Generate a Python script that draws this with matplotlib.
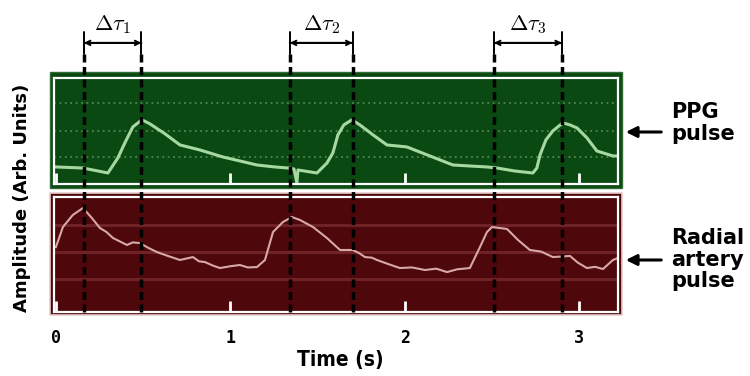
import matplotlib.pyplot as plt
from matplotlib.patches import Rectangle, FancyArrowPatch

# PPG pulse trace (time in s, amplitude in arb. units)
ppgTime = [0.0, 0.155, 0.298, 0.355, 0.395, 0.441, 0.493, 0.539, 0.625, 0.711,
           0.825, 0.957, 1.054, 1.152, 1.255, 1.330, 1.364, 1.381, 1.387, 1.496,
           1.513, 1.553, 1.587, 1.616, 1.650, 1.696, 1.742, 1.817, 1.897, 2.011,
           2.143, 2.275, 2.470, 2.527, 2.630, 2.733, 2.756, 2.774, 2.808, 2.848,
           2.905, 2.946, 2.986, 3.043, 3.100, 3.192, 3.221]
ppgAmp = [1.82, 1.73, 1.30, 2.60, 3.90, 5.28, 5.89, 5.54, 4.68, 3.72,
          3.29, 2.68, 2.34, 1.99, 1.82, 1.73, 1.65, 0.43, 1.56, 1.30,
          1.56, 2.16, 3.03, 4.59, 5.45, 5.89, 5.45, 4.59, 3.72, 3.55,
          2.77, 1.99, 1.82, 1.73, 1.47, 1.30, 1.73, 2.86, 4.16, 4.94,
          5.63, 5.45, 5.19, 4.33, 3.20, 2.77, 2.77]

# radial artery pulse trace
radTime = [0.0, 0.040, 0.097, 0.155, 0.206, 0.252, 0.290, 0.327, 0.407, 0.440,
           0.481, 0.530, 0.579, 0.640, 0.711, 0.785, 0.820, 0.854, 0.900, 0.940,
           1.000, 1.054, 1.100, 1.152, 1.198, 1.244, 1.301, 1.352, 1.398, 1.473,
           1.553, 1.628, 1.702, 1.740, 1.771, 1.810, 1.840, 1.900, 1.971, 2.040,
           2.115, 2.180, 2.241, 2.300, 2.372, 2.430, 2.470, 2.499, 2.585, 2.648,
           2.716, 2.780, 2.848, 2.946, 2.990, 3.043, 3.090, 3.135, 3.192, 3.221]
radAmp = [5.57, 7.21, 8.20, 8.77, 7.95, 7.13, 6.80, 6.31, 5.74, 5.95,
          5.90, 5.50, 5.16, 4.85, 4.51, 4.75, 4.40, 4.34, 4.05, 3.85,
          4.00, 4.10, 3.90, 3.93, 4.51, 6.80, 7.62, 8.03, 7.79, 7.21,
          6.31, 5.33, 5.33, 5.05, 4.75, 4.70, 4.51, 4.20, 3.85, 3.90,
          3.69, 3.80, 3.52, 3.75, 3.85, 5.57, 6.80, 7.21, 7.05, 6.15,
          5.33, 5.20, 4.75, 4.84, 4.30, 3.85, 3.95, 3.77, 4.51, 4.67]

# pulse onset / peak markers (s) and their delays
markTimes = [0.16, 0.49, 1.34, 1.70, 2.51, 2.90]
deltaLabels = [r'$\Delta\tau_1$', r'$\Delta\tau_2$', r'$\Delta\tau_3$']
tickVals = [0, 1, 2, 3]
ppgGrid = [2.68, 4.94, 7.36]
radGrid = [2.95, 5.16, 7.38]

plt.rcParams['mathtext.fontset'] = 'cm'
W, H = 750, 376
fig = plt.figure(figsize=(7.5, 3.76), dpi=100)


def box(l, t, r, b):
    return [l / W, 1 - b / H, (r - l) / W, (b - t) / H]


greenBg = '#0b4913'
redBg = '#4e070a'
xlim = (-0.011, 3.221)

# outer panel borders
fig.add_artist(Rectangle((50 / W, 1 - 188 / H), 572 / W, 115.5 / H,
                         transform=fig.transFigure, facecolor=greenBg,
                         edgecolor='#2f6b33', lw=1, zorder=0))
fig.add_artist(Rectangle((50 / W, 1 - 315 / H), 572 / W, 122 / H,
                         transform=fig.transFigure, facecolor=redBg,
                         edgecolor='#e8cccc', lw=1.2, zorder=0))

axG = fig.add_axes(box(54, 78, 618, 184))
axR = fig.add_axes(box(54, 197, 618, 312))

for ax, bg in [(axG, greenBg), (axR, redBg)]:
    ax.set_facecolor(bg)
    ax.set_xlim(xlim)
    for s in ax.spines.values():
        s.set_color('white')
        s.set_linewidth(1.6)
    ax.set_xticks(tickVals)
    ax.tick_params(axis='x', direction='in', length=8, width=2, color='white')
    ax.tick_params(axis='y', length=0, labelleft=False)

axG.set_ylim(0.35, 9.5)
axG.set_yticks(ppgGrid)
axG.grid(axis='y', color='#6f9d6c', ls=(0, (1, 2)), lw=1.3, alpha=0.7)
axG.tick_params(axis='x', labelbottom=False)
axG.plot(ppgTime, ppgAmp, color='#a6d9a0', lw=2.2)

axR.set_ylim(0.25, 9.67)
axR.set_yticks(radGrid)
axR.grid(axis='y', color='#6e2226', lw=2.2)
axR.plot(radTime, radAmp, color='#d8a8a8', lw=1.5)
axR.tick_params(axis='x', pad=12, labelsize=12)
for lab in axR.get_xticklabels():
    lab.set_family('DejaVu Sans Mono')
    lab.set_fontweight('bold')

# overlay for dashed markers and delay arrows
ov = fig.add_axes(box(54, 15, 618, 315), zorder=10)
ov.set_xlim(xlim)
ov.set_ylim(0, 1)
ov.axis('off')
for t in markTimes:
    ov.axvline(t, ymin=0.01, ymax=0.88, color='black', lw=2.5, ls=(0, (2.3, 1.3)))
for i in range(3):
    t0, t1 = markTimes[2 * i], markTimes[2 * i + 1]
    for style in ['<->', '|-|']:
        ov.annotate('', xy=(t1, 0.907), xytext=(t0, 0.907),
                    arrowprops=dict(arrowstyle=style, lw=1.4, color='black',
                                    mutation_scale=8, shrinkA=0, shrinkB=0))
    ov.text((t0 + t1) / 2, 0.968, deltaLabels[i], ha='center', va='center', fontsize=16)

# labels
fig.text(22 / W, 1 - 198 / H, 'Amplitude (Arb. Units)', rotation=90, ha='center',
         va='center', fontsize=13, fontweight='bold', family='DejaVu Sans')
fig.text(340 / W, 1 - 360 / H, 'Time (s)', ha='center', va='center', fontsize=15,
         fontweight='bold', fontstretch='condensed', family='DejaVu Sans')
fig.text(671 / W, 1 - 102 / H, 'PPG\npulse', ha='left', va='top', fontsize=15,
         fontweight='bold', family='DejaVu Sans', linespacing=1.1)
fig.text(671 / W, 1 - 228 / H, 'Radial\nartery\npulse', ha='left', va='top',
         fontsize=15, fontweight='bold', family='DejaVu Sans', linespacing=1.1)
for y in [132, 260]:
    fig.add_artist(FancyArrowPatch(
        (664 / W, 1 - y / H), (623 / W, 1 - y / H), transform=fig.transFigure,
        arrowstyle='-|>', mutation_scale=16, lw=2.2, color='black'))

fig.savefig('out.png', dpi=100)
